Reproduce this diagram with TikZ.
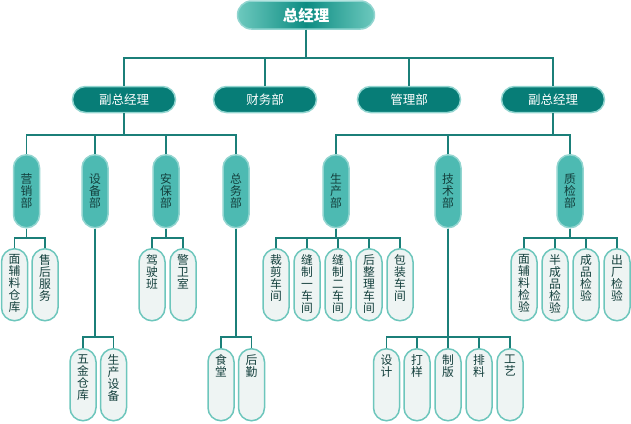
\documentclass[tikz,border=0pt]{standalone}
\usepackage{fontspec}
\newfontfamily\cjk{Noto Sans CJK SC}
\definecolor{linecol}{HTML}{1B7F79}
\definecolor{deepteal}{HTML}{077D77}
\definecolor{midteal}{HTML}{4DBAB2}
\definecolor{paleteal}{HTML}{EEF4F3}
\definecolor{rimteal}{HTML}{92D5D0}
\definecolor{rimpale}{HTML}{6DC6BC}
\definecolor{inkteal}{HTML}{133F3C}
\definecolor{glowteal}{HTML}{6DC9BE}
\definecolor{coreteal}{HTML}{0C8C82}
\newcommand\stack[1]{\parbox[c][72pt][t]{26pt}{\centering\vspace*{6pt}#1}}
\tikzset{
	chief/.style={draw=rimteal, line width=1.5pt, rounded corners=14pt, minimum width=137pt, minimum height=28pt, inner sep=0pt, shading=axis, left color=glowteal, right color=glowteal, middle color=coreteal, text=white, font=\cjk\bfseries\fontsize{15.5}{15.5}\selectfont},
	dept/.style={draw=rimteal, line width=1.5pt, fill=deepteal, rounded corners=13pt, minimum width=103pt, minimum height=26pt, inner sep=0pt, text=white, font=\cjk\fontsize{12.5}{12.5}\selectfont},
	unit/.style={draw=rimteal, line width=1.5pt, fill=midteal, rounded corners=13pt, minimum width=26pt, minimum height=73pt, inner sep=0pt, align=center, anchor=north, text=inkteal, font=\cjk\fontsize{11.8}{12}\selectfont},
	team/.style={draw=rimpale, line width=1.5pt, fill=paleteal, rounded corners=13pt, inner sep=0pt, anchor=north, text=inkteal, font=\cjk\fontsize{11.8}{12}\selectfont},
	link/.style={draw=linecol, line width=1.6pt}
}
\begin{document}
\begin{tikzpicture}[x=1pt, y=-1pt]
		%%%%% START %%%%%
		\useasboundingbox (0, 0) rectangle (631, 423);
		
		\coordinate (bar1) at (0, 58);
		\coordinate (bar2) at (0, 135);
		\coordinate (bar3) at (0, 238);
		\coordinate (bar4) at (0, 337);
		
		\node[chief] (boss) at (306, 15) {总经理};
		
		\node[dept] (vpa) at (124, 99.5) {副总经理};
		\node[dept] (fin) at (265, 99.5) {财务部};
		\node[dept] (mgt) at (409, 99.5) {管理部};
		\node[dept] (vpb) at (553, 99.5) {副总经理};
		
		\node[unit] (sale) at (26.5, 154) {营\\销\\部};
		\node[unit] (equip) at (95, 154) {设\\备\\部};
		\node[unit] (guard) at (166, 154) {安\\保\\部};
		\node[unit] (admin) at (236, 154) {总\\务\\部};
		\node[unit] (prod) at (336, 154) {生\\产\\部};
		\node[unit] (tech) at (448, 154) {技\\术\\部};
		\node[unit] (qc) at (570, 154) {质\\检\\部};
		
		\node[team] (sale1) at (14.5, 248) {\stack{面\\辅\\料\\仓\\库}};
		\node[team] (sale2) at (45, 248) {\stack{售\\后\\服\\务}};
		\node[team] (guard1) at (152, 248) {\stack{驾\\驶\\班}};
		\node[team] (guard2) at (183, 248) {\stack{警\\卫\\室}};
		
		\node[team] (prod1) at (276, 248) {\stack{裁\\剪\\车\\间}};
		\node[team] (prod2) at (307, 248) {\stack{缝\\制\\一\\车\\间}};
		\node[team] (prod3) at (338, 248) {\stack{缝\\制\\二\\车\\间}};
		\node[team] (prod4) at (369, 248) {\stack{后\\整\\理\\车\\间}};
		\node[team] (prod5) at (400, 248) {\stack{包\\装\\车\\间}};
		
		\node[team] (qc1) at (524, 248) {\stack{面\\辅\\料\\检\\验}};
		\node[team] (qc2) at (555, 248) {\stack{半\\成\\品\\检\\验}};
		\node[team] (qc3) at (586, 248) {\stack{成\\品\\检\\验}};
		\node[team] (qc4) at (617, 248) {\stack{出\\厂\\检\\验}};
		
		\node[team] (equip1) at (83, 348) {\stack{五\\金\\仓\\库}};
		\node[team] (equip2) at (113.5, 348) {\stack{生\\产\\设\\备}};
		\node[team] (admin1) at (221, 348) {\stack{食\\堂}};
		\node[team] (admin2) at (251.5, 348) {\stack{后\\勤}};
		
		\node[team] (tech1) at (386.5, 348) {\stack{设\\计}};
		\node[team] (tech2) at (417, 348) {\stack{打\\样}};
		\node[team] (tech3) at (448, 348) {\stack{制\\版}};
		\node[team] (tech4) at (479, 348) {\stack{排\\料}};
		\node[team] (tech5) at (510, 348) {\stack{工\\艺}};
		
		\foreach \c in {vpa, fin, mgt, vpb}
			\draw[link] (boss.south) -- (boss.south |- bar1) -| (\c.north);
		\foreach \c in {sale, equip, guard, admin}
			\draw[link] (vpa.south) -- (vpa.south |- bar2) -| (\c.north);
		\foreach \c in {prod, tech, qc}
			\draw[link] (vpb.south) -- (vpb.south |- bar2) -| (\c.north);
		
		\foreach \c in {sale1, sale2}
			\draw[link] (sale.south) -- (sale.south |- bar3) -| (\c.north);
		\foreach \c in {guard1, guard2}
			\draw[link] (guard.south) -- (guard.south |- bar3) -| (\c.north);
		\foreach \c in {prod1, prod2, prod3, prod4, prod5}
			\draw[link] (prod.south) -- (prod.south |- bar3) -| (\c.north);
		\foreach \c in {qc1, qc2, qc3, qc4}
			\draw[link] (qc.south) -- (qc.south |- bar3) -| (\c.north);
		
		\foreach \c in {equip1, equip2}
			\draw[link] (equip.south) -- (equip.south |- bar4) -| (\c.north);
		\foreach \c in {admin1, admin2}
			\draw[link] (admin.south) -- (admin.south |- bar4) -| (\c.north);
		\foreach \c in {tech1, tech2, tech3, tech4, tech5}
			\draw[link] (tech.south) -- (tech.south |- bar4) -| (\c.north);
		
		%%%%% END %%%%%
\end{tikzpicture}
\end{document}
